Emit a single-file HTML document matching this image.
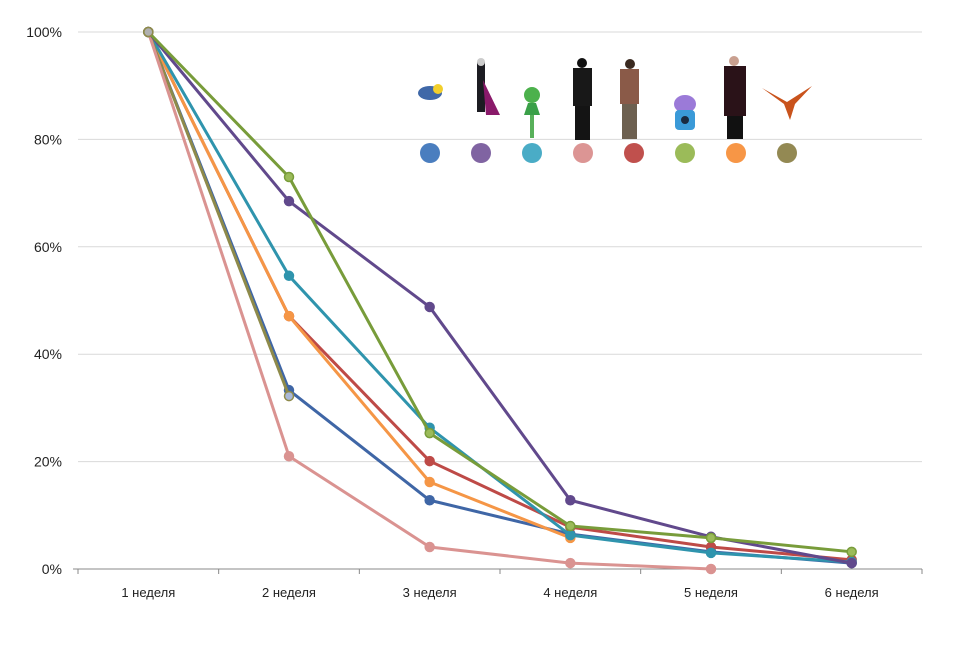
<!DOCTYPE html>
<html><head><meta charset="utf-8"><style>
body{margin:0;background:#fff;}
svg text{font-family:"Liberation Sans",sans-serif;fill:#222;}
</style></head><body>
<svg id="chart" width="960" height="640" xmlns="http://www.w3.org/2000/svg">
<g id="grid"></g>
<g id="axes"></g>
<g id="figures">
  <g><ellipse cx="430" cy="93" rx="12" ry="7" fill="#3f68a8"/><circle cx="438" cy="89" r="5" fill="#f2cf2c"/></g>
  <g><rect x="477" y="62" width="8" height="50" fill="#1c1c22"/><polygon points="483,80 500,115 486,115" fill="#8a1a6a"/><circle cx="481" cy="62" r="4" fill="#ccc"/></g>
  <g><circle cx="532" cy="95" r="8" fill="#4cb14c"/><polygon points="524,115 540,115 536,103 528,103" fill="#3aa048"/><rect x="530" y="115" width="4" height="23" fill="#58b05a"/></g>
  <g><circle cx="582" cy="63" r="5" fill="#111"/><rect x="573" y="68" width="19" height="38" fill="#181818"/><rect x="575" y="106" width="15" height="34" fill="#141414"/></g>
  <g><circle cx="630" cy="64" r="5" fill="#3a2a20"/><rect x="620" y="69" width="19" height="35" fill="#8a5a48"/><rect x="622" y="104" width="15" height="35" fill="#6d6050"/></g>
  <g><ellipse cx="685" cy="104" rx="11" ry="9" fill="#9b7ad8"/><rect x="675" y="110" width="20" height="20" rx="4" fill="#3a9ad8"/><circle cx="685" cy="120" r="4" fill="#1a2a40"/></g>
  <g><circle cx="734" cy="61" r="5" fill="#c9a090"/><rect x="724" y="66" width="22" height="50" fill="#2a1218"/><rect x="727" y="116" width="16" height="23" fill="#111"/></g>
  <g><polygon points="762,88 787,102 812,86 795,104 790,120 784,104" fill="#c9531c"/></g>
</g>
<g id="legend"></g>
<g id="series"></g>
</svg>
<script>
const categories=["1 неделя","2 неделя","3 неделя","4 неделя","5 неделя","6 неделя"];
const yTicks=[0,20,40,60,80,100];
const seriesColors=["#3f66a6","#61498c","#2f94ad","#da9391","#be4a47","#789c3a","#f59646","#8e8a4a"];
const legendColors=["#4a7ebf","#8064a2","#4aacc6","#dc9594","#c0504d","#9bbb59","#f79646","#938953"];
const sBlue=[100,33.3,12.8,6.5,3.2,1.1];
const sPurple=[100,68.5,48.8,12.8,6.0,1.1];
const sTeal=[100,54.6,26.3,6.3,3.0,1.3];
const sPink=[100,21.0,4.1,1.1,0];
const sRed=[100,47.1,20.1,7.8,4.1,1.7];
const sGreen=[100,73,25.3,8.0,5.8,3.2];
const sOrange=[100,47.1,16.2,5.8];
const sOlive=[100,32.2];
const allSeries=[sBlue,sRed,sOrange,sTeal,sOlive,sPink,sPurple,sGreen];
const allColors=[seriesColors[0],seriesColors[4],seriesColors[6],seriesColors[2],seriesColors[7],seriesColors[3],seriesColors[1],seriesColors[5]];
const names=["blue","red","orange","teal","olive","pink","purple","green"];
const NS="http://www.w3.org/2000/svg";
const x0=78,x1=922,y0=569,y1=32;
const step=(x1-x0)/categories.length;
function xs(i){return x0+step*(i+0.5);}
function ys(v){return y0-(v/100)*(y0-y1);}
function mk(t,a,p){const e=document.createElementNS(NS,t);for(const k in a)e.setAttribute(k,a[k]);p.appendChild(e);return e;}
const grid=document.getElementById('grid'),axes=document.getElementById('axes'),ser=document.getElementById('series'),leg=document.getElementById('legend');
yTicks.forEach(t=>{
 if(t>0){const g=mk('line',{x1:x0,x2:x1,y1:ys(t),y2:ys(t),stroke:'#d9d9d9','stroke-width':1},grid);
 
 }
 const tx=mk('text',{x:62,y:ys(t)+5,'text-anchor':'end','font-size':14},axes);
 tx.textContent=t+'%';
 
 
});
const ax=mk('line',{x1:x0-5,x2:x1,y1:y0,y2:y0,stroke:'#888','stroke-width':1},axes);


for(let i=0;i<=categories.length;i++){mk('line',{x1:x0+step*i,x2:x0+step*i,y1:y0,y2:y0+5,stroke:'#888'},axes);}
categories.forEach((c,i)=>{const t=mk('text',{x:xs(i),y:597,'text-anchor':'middle','font-size':13},axes);t.textContent=c;
 
 });
legendColors.forEach((c,i)=>{const d=mk('circle',{cx:430+51*i,cy:153,r:10,fill:c},leg);
 
 });
allSeries.forEach((s,k)=>{
 const g=mk('g',{},ser);
 
 
 mk('polyline',{points:s.map((v,i)=>xs(i)+','+ys(v)).join(' '),fill:'none',stroke:allColors[k],'stroke-width':3,'stroke-linejoin':'round'},g);
 s.forEach((v,i)=>{const fill=(names[k]==='olive')?'#a9b8d8':allColors[k];
  const p=mk('circle',{cx:xs(i),cy:ys(v),r:4.5,fill:(names[k]==='green')?'#9bbb59':fill,stroke:allColors[k],'stroke-width':1.5},g);
  
  });
});
// common start marker
const st=mk('circle',{cx:xs(0),cy:ys(100),r:4.5,fill:'#b0b0b0',stroke:'#8e8a4a','stroke-width':1.5},ser);


</script>
</body></html>
